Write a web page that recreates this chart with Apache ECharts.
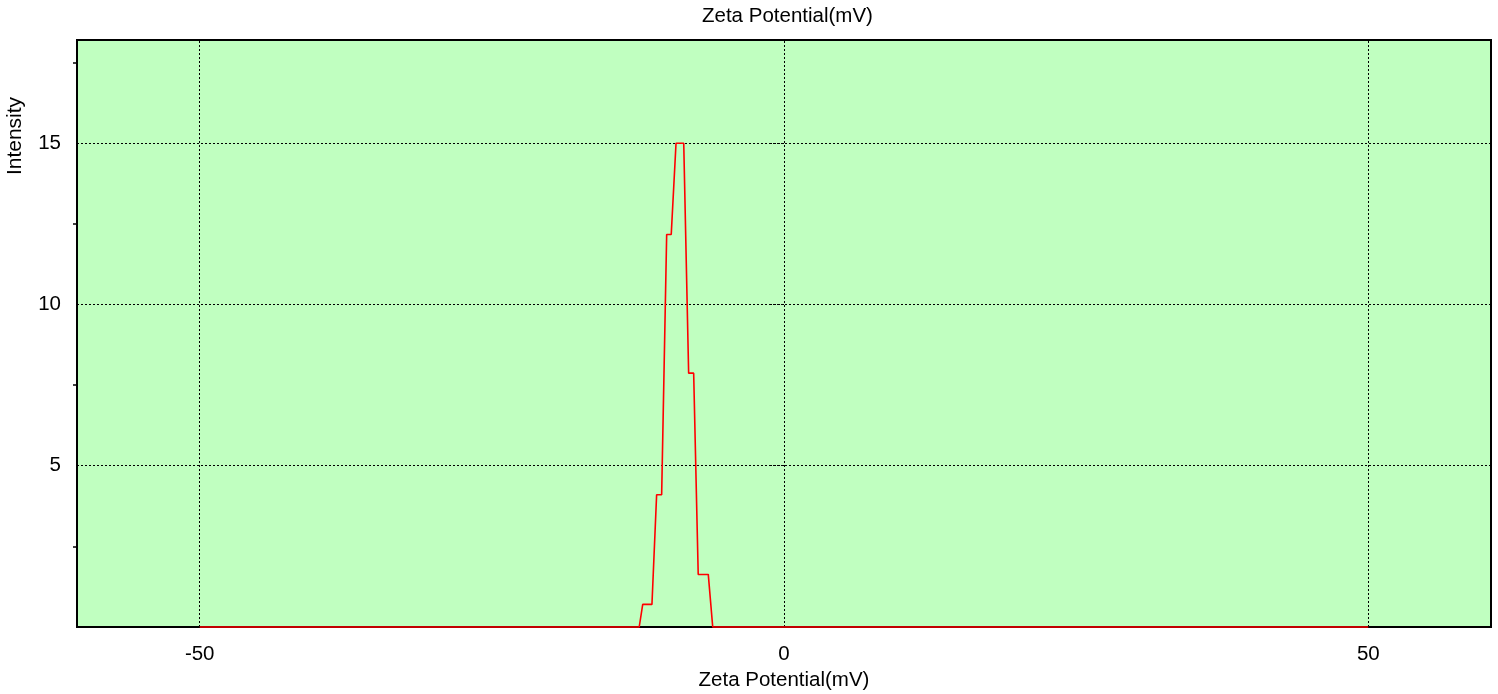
<!DOCTYPE html>
<html>
<head>
<meta charset="utf-8">
<script src="https://cdn.jsdelivr.net/npm/echarts@6/dist/echarts.min.js"></script>
<style>
  html, body { margin: 0; padding: 0; background: #fff; }
  #chart { width: 1498px; height: 694px; }
</style>
</head>
<body>
<div id="chart"></div>
<script>
// Zeta potential (mV) and intensity
const zetaPotential = [-50, -12.39, -12.09, -11.30, -10.90, -10.47, -10.04, -9.65, -9.24, -8.58, -8.16, -7.73, -7.34, -6.48, -6.10, 50];
const intensity     = [0,    0,      0.70,   0.70,   4.10,   4.10,   12.17,  12.17, 15.0,  15.0,  7.87,  7.87,  1.63,  1.63,  0,     0];
const xTickValues = [-50, 0, 50];
const yTickValues = [5, 10, 15];
const yMinorTickValues = [2.5, 7.5, 12.5, 17.5];
const titleText = 'Zeta Potential(mV)';
const xAxisName = 'Zeta Potential(mV)';
const yAxisName = 'Intensity';

const FONT = 'Liberation Sans, Arial, sans-serif';
const chart = echarts.init(document.getElementById('chart'), null, { renderer: 'canvas' });

const points = zetaPotential.map((x, i) => [x, intensity[i]]);
const gridDash = [2, 2];

chart.setOption({
  animation: false,
  backgroundColor: '#ffffff',
  title: {
    text: titleText,
    left: 697,
    top: 1,
    textStyle: { fontFamily: FONT, fontSize: 20.5, fontWeight: 'normal', color: '#000' }
  },
  graphic: [{
    type: 'text',
    x: 15,
    y: 136,
    rotation: Math.PI / 2,
    style: {
      text: yAxisName,
      font: '21px ' + FONT,
      fill: '#000',
      align: 'center',
      verticalAlign: 'middle'
    }
  }],
  grid: {
    left: 77, top: 40, width: 1414, height: 587,
    outerBoundsMode: 'none',
    containLabel: false,
    show: true,
    backgroundColor: '#C0FFC0',
    borderColor: '#000',
    borderWidth: 2
  },
  xAxis: {
    type: 'value',
    min: -60.5,
    max: 60.5,
    name: xAxisName,
    nameLocation: 'middle',
    nameGap: 42,
    nameTextStyle: { fontFamily: FONT, fontSize: 20.5, color: '#000' },
    axisLine: { show: false },
    axisTick: { show: false },
    splitLine: { show: false },
    axisLabel: {
      customValues: xTickValues,
      margin: 17,
      fontFamily: FONT, fontSize: 20.5, color: '#000'
    }
  },
  yAxis: [{
    type: 'value',
    position: 'left',
    min: 0,
    max: 18.2,
    interval: 5,
    axisLine: { show: false },
    axisTick: {
      show: true,
      customValues: yTickValues,
      length: 14,
      lineStyle: { color: '#000', width: 1, type: gridDash }
    },
    splitLine: { show: true, lineStyle: { color: '#000', width: 1, type: gridDash } },
    axisLabel: {
      customValues: yTickValues,
      margin: 16,
      fontFamily: FONT, fontSize: 20.5, color: '#000'
    }
  }, {
    type: 'value',
    position: 'left',
    min: 0,
    max: 18.2,
    axisLine: { show: false },
    axisTick: {
      show: true,
      customValues: yMinorTickValues,
      length: 4,
      lineStyle: { color: '#000', width: 1.5 }
    },
    splitLine: { show: false },
    axisLabel: { show: false }
  }],
  series: [{
    type: 'line',
    data: points,
    xAxisIndex: 0,
    yAxisIndex: 0,
    showSymbol: false,
    symbol: 'none',
    clip: false,
    z: 5,
    lineStyle: { color: '#FF0000', width: 1.6 },
    markLine: {
      silent: true,
      symbol: 'none',
      label: { show: false },
      lineStyle: { color: '#000', width: 1, type: gridDash },
      z: 1,
      data: xTickValues.map(v => ({ xAxis: v }))
    }
  }]
});
</script>
</body>
</html>
